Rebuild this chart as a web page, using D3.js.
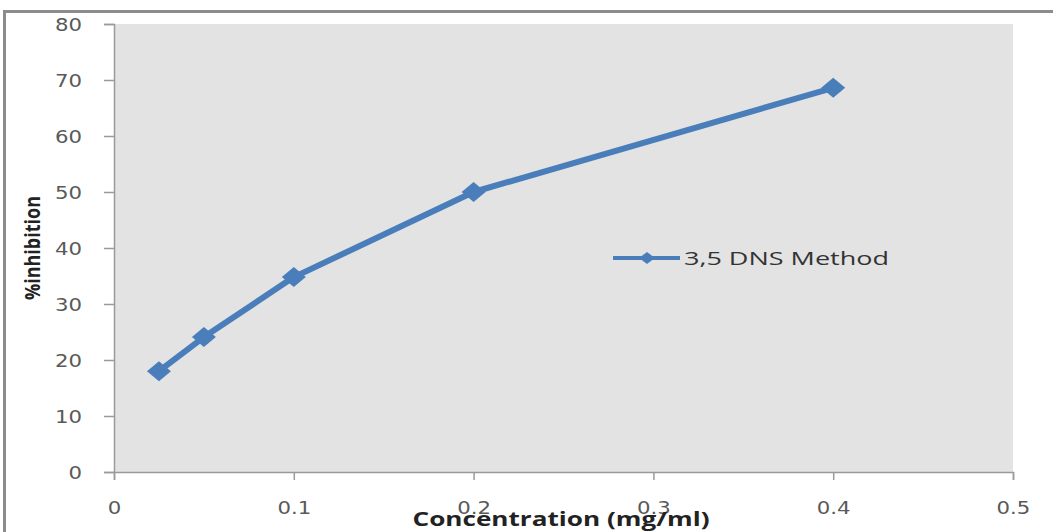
<!DOCTYPE html>
<html>
<head>
<meta charset="utf-8">
<script src="https://cdn.jsdelivr.net/npm/d3@7"></script>
<style>
  html, body { margin: 0; padding: 0; background: #ffffff; }
  svg { display: block; }
</style>
</head>
<body>
<svg id="chart" width="1053" height="532"></svg>
<script>
// Concentration (mg/ml) and % inhibition for the 3,5 DNS assay
const concentrations = [0.025, 0.05, 0.1, 0.2, 0.4];
const inhibition = [18.0, 24.1, 34.8, 50.0, 68.6];
const seriesName = "3,5 DNS Method";
const xTicks = [0, 0.1, 0.2, 0.3, 0.4, 0.5];
const yTicks = [0, 10, 20, 30, 40, 50, 60, 70, 80];
const xTitle = "Concentration (mg/ml)";
const yTitle = "%inhibition";

const svg = d3.select("#chart");
const plot = { left: 114, right: 1013, top: 24, bottom: 472 };
const blue = "#4A7EBB";

const x = d3.scaleLinear().domain([0, 0.5]).range([plot.left, plot.right]);
const y = d3.scaleLinear().domain([0, 80]).range([plot.bottom, plot.top]);

// Outer frame (top and left edges)
svg.append("path")
  .attr("d", `M4.5,532 V11.5 H1053`)
  .attr("fill", "none")
  .attr("stroke", "#8c8c8c")
  .attr("stroke-width", 3);

// Plot background
svg.append("rect")
  .attr("x", plot.left).attr("y", plot.top)
  .attr("width", plot.right - plot.left).attr("height", plot.bottom - plot.top)
  .attr("fill", "#e3e3e3");

// Y axis
const yAxis = svg.append("g")
  .attr("transform", `translate(${plot.left},0)`)
  .call(d3.axisLeft(y).tickValues(yTicks).tickSize(10).tickPadding(0).tickFormat(d3.format("d")));
yAxis.select(".domain").attr("stroke", "#9a9a9a").attr("stroke-width", 1.5);
yAxis.selectAll(".tick line").attr("stroke", "#9a9a9a").attr("stroke-width", 1.5);
yAxis.selectAll(".tick text")
  .attr("x", null).attr("dy", null)
  .attr("transform", "translate(-32,6) scale(1.25,1)")
  .attr("font-family", "'DejaVu Sans', Verdana, sans-serif")
  .attr("font-size", 17)
  .attr("fill", "#595959");

// X axis
const xAxis = svg.append("g")
  .attr("transform", `translate(0,${plot.bottom})`)
  .call(d3.axisBottom(x).tickValues(xTicks).tickSize(8).tickPadding(0)
    .tickFormat(d => d === 0 ? "0" : d3.format(".1f")(d)));
xAxis.select(".domain").attr("stroke", "#9a9a9a").attr("stroke-width", 1.5);
xAxis.selectAll(".tick line").attr("stroke", "#9a9a9a").attr("stroke-width", 1.5);
xAxis.selectAll(".tick text")
  .attr("y", null).attr("dy", null)
  .attr("transform", "translate(0,42) scale(1.25,1)")
  .attr("font-family", "'DejaVu Sans', Verdana, sans-serif")
  .attr("font-size", 17)
  .attr("fill", "#595959");

// Series line
const data = concentrations.map((c, i) => ({ c, v: inhibition[i] }));
svg.append("path")
  .datum(data)
  .attr("fill", "none")
  .attr("stroke", blue)
  .attr("stroke-width", 6)
  .attr("stroke-linejoin", "round")
  .attr("d", d3.line().x(d => x(d.c)).y(d => y(d.v)));

// Diamond markers
const diamond = (cx, cy, rx, ry) => `M${cx},${cy - ry} L${cx + rx},${cy} L${cx},${cy + ry} L${cx - rx},${cy} Z`;
svg.append("g").selectAll("path")
  .data(data)
  .join("path")
  .attr("d", d => diamond(x(d.c), y(d.v), 12, 10))
  .attr("fill", blue);

// Legend
const lg = svg.append("g");
lg.append("line")
  .attr("x1", 613).attr("x2", 680).attr("y1", 258).attr("y2", 258)
  .attr("stroke", blue).attr("stroke-width", 4);
lg.append("path").attr("d", diamond(647, 258, 8, 6)).attr("fill", blue);
lg.append("text")
  .attr("x", 684).attr("y", 265)
  .attr("font-family", "'Open Sans', 'Liberation Sans', sans-serif")
  .attr("font-size", 19)
  .attr("textLength", 205).attr("lengthAdjust", "spacingAndGlyphs")
  .attr("fill", "#333333")
  .text(seriesName);

// Axis titles
svg.append("text")
  .attr("x", 561).attr("y", 526)
  .attr("text-anchor", "middle")
  .attr("font-family", "'Open Sans', 'Liberation Sans', sans-serif")
  .attr("font-weight", "bold")
  .attr("font-size", 19)
  .attr("textLength", 297).attr("lengthAdjust", "spacingAndGlyphs")
  .attr("fill", "#222222")
  .text(xTitle);

svg.append("text")
  .attr("transform", "translate(40,248) rotate(-90)")
  .attr("text-anchor", "middle")
  .attr("font-family", "'Liberation Sans Narrow', 'Open Sans', sans-serif")
  .attr("font-weight", "bold")
  .attr("font-size", 22)
  .attr("textLength", 104).attr("lengthAdjust", "spacingAndGlyphs")
  .attr("fill", "#222222")
  .text(yTitle);
</script>
</body>
</html>
